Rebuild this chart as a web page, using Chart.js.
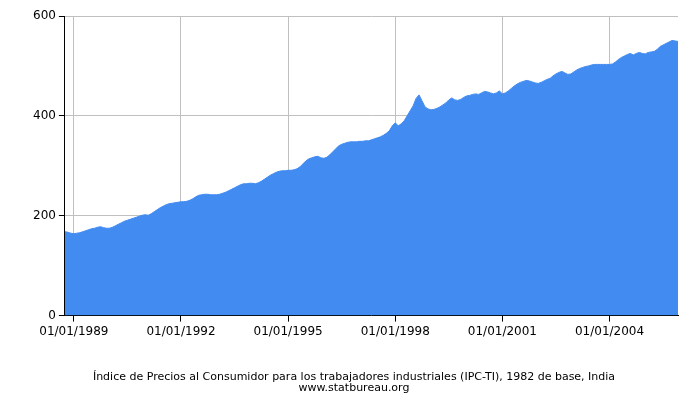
<!DOCTYPE html><html><head><meta charset="utf-8">
<script src="https://cdn.jsdelivr.net/npm/chart.js@4"></script>
<style>body{margin:0;background:#fff}#w{width:700px;height:400px}</style></head><body><div id="w"><canvas id="c"></canvas></div>
<script>
const startYear=1988, startMonth=10;
const values=[168,167,165,
164,165,166,168,170,172,174,175,177,178,176,175,
175,177,180,183,186,189,191,193,195,197,199,201,
202,201,204,208,212,216,219,222,224,225,226,227,
228,228,229,231,234,238,241,242,243,243,242,242,
242,243,245,247,250,253,256,259,262,264,264,265,
265,264,266,269,273,277,281,284,287,289,290,290,
291,291,292,294,298,304,310,314,316,318,319,316,
315,317,322,328,334,340,343,345,347,348,348,348,
349,349,350,350,352,354,356,358,361,365,370,380,
386,380,384,390,400,410,420,435,442,430,418,414,
412,413,415,418,422,426,432,436,432,431,433,437,
440,441,443,444,443,446,449,448,446,444,446,450,
444,446,450,455,460,464,467,469,471,470,468,466,
465,467,470,473,475,480,484,487,489,486,483,484,
488,492,495,497,499,500,502,503,503,503,503,503,
503,504,508,513,517,520,523,525,522,525,527,525,
524,527,528,529,533,539,542,545,548,551,550,549];
const tickYears=[1989,1992,1995,1998,2001,2004];
const yTicks=[0,200,400,600];
const idxOf=y=>(y-startYear)*12-(startMonth-1);
const points=values.map((v,i)=>({x:i,y:v}));
new Chart(document.getElementById('c'),{type:'line',
data:{datasets:[{data:points,fill:true,backgroundColor:'#428bf0',borderColor:'#428bf0',borderWidth:1,pointRadius:0,tension:0}]},
options:{responsive:true,maintainAspectRatio:false,animation:false,parsing:false,
layout:{padding:{left:30,right:22,top:16,bottom:6}},
plugins:{legend:{display:false},tooltip:{enabled:false},
title:{display:true,position:'bottom',text:['Índice de Precios al Consumidor para los trabajadores industriales (IPC-TI), 1982 de base, India','www.statbureau.org'],color:'#000',font:{family:'DejaVu Sans',size:11,weight:'normal',lineHeight:1.0},padding:{top:30,bottom:0}}},
scales:{x:{type:'linear',min:0,max:values.length-1,afterBuildTicks:a=>{a.ticks=tickYears.map(y=>({value:idxOf(y)}));},
ticks:{maxRotation:0,color:'#000',font:{family:'DejaVu Sans',size:12},callback:v=>'01/01/'+(startYear+Math.round((v+startMonth-1)/12))},
grid:{color:'#c0c0c0',tickColor:'#000',tickLength:6},border:{color:'#000'}},
y:{min:0,max:600,afterBuildTicks:a=>{a.ticks=yTicks.map(v=>({value:v}));},ticks:{color:'#000',font:{family:'DejaVu Sans',size:12}},grid:{color:'#c0c0c0',tickColor:'#000',tickLength:6},border:{color:'#000'}}}}});
</script></body></html>
